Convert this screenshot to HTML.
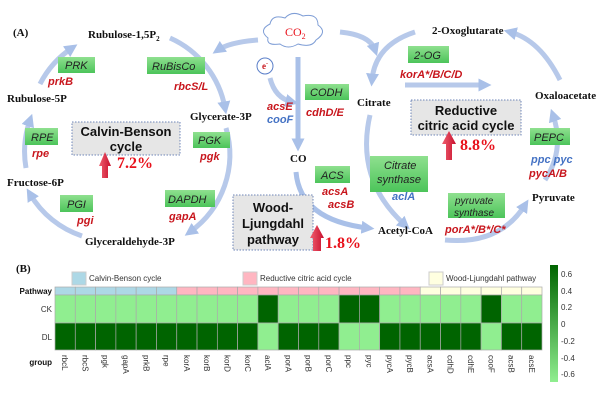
<!DOCTYPE html>
<html><head><meta charset="utf-8"><style>
html,body{margin:0;padding:0;background:#fff;}
svg{display:block;}
.m{font-family:"Liberation Serif",serif;font-weight:bold;font-size:11px;fill:#111;}
.e{font-family:"Liberation Sans",sans-serif;font-style:italic;font-size:11px;fill:#222;}
.g{font-family:"Liberation Sans",sans-serif;font-style:italic;font-weight:bold;font-size:11px;fill:#c8161d;}
.b{font-family:"Liberation Sans",sans-serif;font-style:italic;font-weight:bold;font-size:11px;fill:#4472c4;}
.t{font-family:"Liberation Sans",sans-serif;font-weight:bold;font-size:13px;fill:#111;}
.p{font-family:"Liberation Serif",serif;font-weight:bold;font-size:16px;fill:#e8121c;}
.s{font-family:"Liberation Sans",sans-serif;font-size:8px;fill:#333;}
.sb{font-family:"Liberation Sans",sans-serif;font-size:8px;font-weight:bold;fill:#111;}
</style></head><body>
<svg width="600" height="406" viewBox="0 0 600 406" xmlns="http://www.w3.org/2000/svg">
<defs>
<marker id="ah" markerWidth="2.6" markerHeight="2.6" refX="1.3" refY="1.3" orient="auto" markerUnits="strokeWidth"><path d="M0,0 L2.6,1.3 L0,2.6 z" fill="#a9c0e8"/></marker>
<linearGradient id="gb" x1="0" y1="0" x2="0" y2="1"><stop offset="0" stop-color="#8fe08f"/><stop offset="1" stop-color="#4cc45a"/></linearGradient>
<linearGradient id="ra" x1="0" y1="0" x2="1" y2="0"><stop offset="0" stop-color="#f06070"/><stop offset="1" stop-color="#c8102e"/></linearGradient>
</defs>
<g fill="none" stroke="#b7c9ea" stroke-width="5" marker-end="url(#ah)">
<path d="M170,38 A95,95 0 0 1 225,108"/>
<path d="M226,128 A95,95 0 0 1 190,232"/>
<path d="M82,236 A95,95 0 0 1 30,194"/>
<path d="M26,168 A95,95 0 0 1 30,120"/>
<path d="M40,84 A95,95 0 0 1 72,48"/>
<path d="M258,40 Q230,42 218,50"/>
<path d="M298,57 L298,145" stroke="#a9c0e8"/>
<path d="M270,78 Q275,98 292,102"/>
<path d="M296,172 Q300,220 368,228" stroke="#a9c0e8"/>
<path d="M340,32 Q370,35 375,50"/>
<path d="M415,32 Q375,45 372,80"/>
<path d="M405,85 L485,85"/>
<path d="M560,80 Q540,40 510,32"/>
<path d="M545,180 Q565,150 553,115"/>
<path d="M445,240 Q500,245 525,205"/>
<path d="M370,115 Q355,180 405,225"/>
</g>
<text x="13" y="36" class="m">(A)</text>
<path d="M268,38 Q258,30 270,24 Q272,14 285,18 Q292,10 303,16 Q318,13 318,25 Q328,32 316,40 Q312,48 298,44 Q288,50 280,44 Q266,46 268,38 z" fill="#fff" stroke="#7f9ed6" stroke-width="1"/>
<text x="285" y="36" class="m" style="fill:#e8121c;font-weight:normal;font-size:12px">CO<tspan font-size="8" dy="3">2</tspan></text>
<circle cx="265" cy="66" r="8" fill="#fff" stroke="#5b7fc9"/>
<text x="262" y="69" class="m" style="fill:#c8161d;font-size:9px">e<tspan font-size="6" dy="-4">-</tspan></text>
<text x="88" y="38" class="m">Rubulose-1,5P<tspan font-size="7" dy="3">2</tspan></text>
<text x="7" y="102" class="m">Rubulose-5P</text>
<text x="190" y="120" class="m">Glycerate-3P</text>
<text x="7" y="186" class="m">Fructose-6P</text>
<text x="85" y="245" class="m">Glyceraldehyde-3P</text>
<text x="290" y="162" class="m">CO</text>
<text x="357" y="106" class="m">Citrate</text>
<text x="432" y="34" class="m">2-Oxoglutarate</text>
<text x="535" y="99" class="m">Oxaloacetate</text>
<text x="532" y="201" class="m">Pyruvate</text>
<text x="378" y="234" class="m">Acetyl-CoA</text>
<g fill="url(#gb)">
<rect x="58" y="57" width="37" height="16"/><rect x="147" y="57" width="58" height="17"/>
<rect x="25" y="128" width="33" height="17"/><rect x="193" y="132" width="37" height="16"/>
<rect x="60" y="195" width="33" height="17"/><rect x="165" y="190" width="50" height="17"/>
<rect x="305" y="84" width="44" height="16"/><rect x="408" y="46" width="41" height="17"/>
<rect x="530" y="128" width="40" height="17"/><rect x="370" y="156" width="58" height="36"/>
<rect x="315" y="166" width="35" height="17"/><rect x="448" y="193" width="57" height="25"/>
</g>
<text x="65" y="69" class="e">PRK</text><text x="152" y="70" class="e">RuBisCo</text>
<text x="31" y="141" class="e">RPE</text><text x="198" y="144" class="e">PGK</text>
<text x="67" y="208" class="e">PGI</text><text x="168" y="203" class="e">DAPDH</text>
<text x="310" y="96" class="e">CODH</text><text x="414" y="59" class="e">2-OG</text>
<text x="534" y="141" class="e">PEPC</text>
<text x="384" y="169" class="e">Citrate</text><text x="377" y="183" class="e">synthase</text>
<text x="321" y="179" class="e">ACS</text>
<text x="455" y="204" class="e" style="font-size:10px">pyruvate</text><text x="454" y="216" class="e" style="font-size:10px">synthase</text>
<text x="48" y="85" class="g">prkB</text><text x="174" y="90" class="g">rbcS/L</text>
<text x="32" y="157" class="g">rpe</text><text x="200" y="160" class="g">pgk</text>
<text x="77" y="224" class="g">pgi</text><text x="169" y="220" class="g">gapA</text>
<text x="267" y="110" class="g">acsE</text><text x="267" y="123" class="b">cooF</text>
<text x="306" y="116" class="g">cdhD/E</text><text x="400" y="78" class="g">korA*/B/C/D</text>
<text x="531" y="163" class="b">ppc pyc</text><text x="529" y="177" class="g">pycA/B</text>
<text x="392" y="200" class="b">aclA</text>
<text x="322" y="195" class="g">acsA</text><text x="328" y="208" class="g">acsB</text>
<text x="445" y="233" class="g">porA*/B*/C*</text>
<g fill="#e6e6e6" stroke="#6f86b8" stroke-dasharray="1.5,1.5" stroke-width="1">
<rect x="72" y="122" width="108" height="33"/>
<rect x="411" y="100" width="110" height="35"/>
<rect x="233" y="195" width="80" height="55"/>
</g>
<g text-anchor="middle">
<text x="126" y="136" class="t">Calvin-Benson</text><text x="126" y="151" class="t">cycle</text>
<text x="466" y="115" class="t">Reductive</text><text x="466" y="130" class="t">citric acid cycle</text>
<text x="273" y="212" class="t">Wood-</text><text x="273" y="228" class="t">Ljungdahl</text><text x="273" y="244" class="t">pathway</text>
</g>
<g fill="url(#ra)">
<path d="M99,166 L105,152 L111,166 L108,166 L108,178 L102,178 L102,166 z"/>
<path d="M442,144 L449,131 L456,144 L452,144 L452,160 L446,160 L446,144 z"/>
<path d="M310,238 L317,225 L324,238 L321,238 L321,251 L313,251 L313,238 z"/>
</g>
<text x="117" y="168" class="p">7.2%</text>
<text x="460" y="150" class="p">8.8%</text>
<text x="325" y="248" class="p">1.8%</text>
<text x="16" y="272" class="m">(B)</text>
<rect x="72" y="272" width="14" height="13" fill="#add8e6" stroke="#ccc"/><text x="89" y="281" class="s">Calvin-Benson cycle</text>
<rect x="243" y="272" width="14" height="13" fill="#ffb6c1" stroke="#ccc"/><text x="260" y="281" class="s">Reductive citric acid cycle</text>
<rect x="429" y="272" width="14" height="13" fill="#ffffe0" stroke="#ccc"/><text x="446" y="281" class="s">Wood-Ljungdahl pathway</text>
<text x="52" y="294" class="sb" text-anchor="end">Pathway</text>
<text x="52" y="312" class="s" text-anchor="end">CK</text>
<text x="52" y="340" class="s" text-anchor="end">DL</text>
<text x="52" y="365" class="sb" text-anchor="end">group</text>
<g id="hm" stroke="#aaa" stroke-width="0.7"></g>
<defs><linearGradient id="cb" x1="0" y1="0" x2="0" y2="1"><stop offset="0" stop-color="#006400"/><stop offset="1" stop-color="#90ee90"/></linearGradient></defs>
<rect x="550" y="265" width="8" height="117" fill="url(#cb)"/>
<text x="561" y="277" class="s">0.6</text><text x="561" y="294" class="s">0.4</text><text x="561" y="310" class="s">0.2</text>
<text x="561" y="327" class="s">0</text><text x="561" y="344" class="s">-0.2</text><text x="561" y="361" class="s">-0.4</text><text x="561" y="377" class="s">-0.6</text>
<g id="lbl"></g>
</svg>
<script>
var genes=["rbcL","rbcS","pgk","gapA","prkB","rpe","korA","korB","korD","korC","aclA","porA","porB","porC","ppc","pyc","pycA","pycB","acsA","cdhD","cdhE","cooF","acsB","acsE"];
var hi=[10,14,15,21];var ns="http://www.w3.org/2000/svg";
var hm=document.getElementById("hm"),lb=document.getElementById("lbl");
var w=487/24;
for(var i=0;i<24;i++){var x=55+i*w;
var pc=i<6?"#add8e6":(i<18?"#ffb6c1":"#ffffe0");
var ck=hi.indexOf(i)>=0;
[[287,8,pc],[295,28,ck?"#006400":"#90ee90"],[323,27,ck?"#90ee90":"#006400"]].forEach(function(r){
var e=document.createElementNS(ns,"rect");e.setAttribute("x",x);e.setAttribute("y",r[0]);e.setAttribute("width",w);e.setAttribute("height",r[1]);e.setAttribute("fill",r[2]);hm.appendChild(e);});
var t=document.createElementNS(ns,"text");t.setAttribute("class","s");t.setAttribute("transform","translate("+(x+w/2-3)+",355) rotate(90)");t.textContent=genes[i];lb.appendChild(t);}
</script>
</body></html>
